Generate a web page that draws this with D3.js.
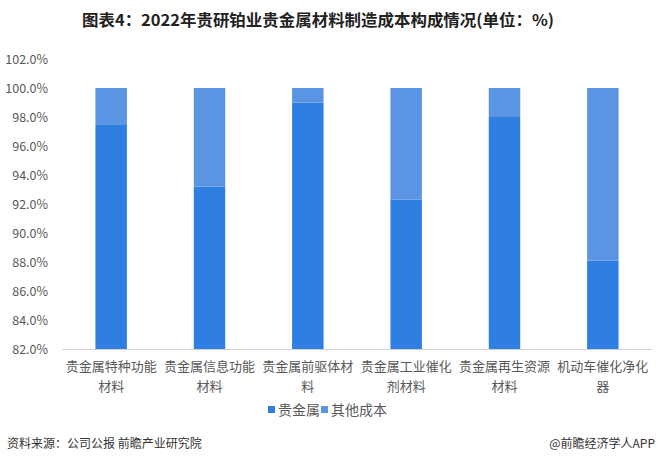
<!DOCTYPE html>
<html><head><meta charset="utf-8">
<script src="https://cdn.jsdelivr.net/npm/d3@7"></script>
<style>body{margin:0;background:#fff;}svg{display:block;font-family:"Noto Sans CJK SC","Noto Sans",sans-serif;}</style>
</head><body>
<svg id="c" width="660" height="465"></svg>
<script>
const categories = ["贵金属特种功能材料","贵金属信息功能材料","贵金属前驱体材料","贵金属工业催化剂材料","贵金属再生资源材料","机动车催化净化器"];
const categoryLines = [["贵金属特种功能","材料"],["贵金属信息功能","材料"],["贵金属前驱体材","料"],["贵金属工业催化","剂材料"],["贵金属再生资源","材料"],["机动车催化净化","器"]];
const preciousMetal = [97.5, 93.2, 99.0, 92.3, 98.0, 88.1];
const otherCost = [2.5, 6.8, 1.0, 7.7, 2.0, 11.9];
const seriesNames = ["贵金属","其他成本"];
const yTicks = [82,84,86,88,90,92,94,96,98,100,102];

const colors = ["#2f7ee1","#5a94e2"];
const svg = d3.select("#c");
const m = {l:62, r:8, t:59, b:116};
const W = 660, H = 465;
const x = d3.scaleBand().domain(categories).range([m.l, W-m.r]).paddingInner(0.68).paddingOuter(0.34);
const y = d3.scaleLinear().domain([82,102]).range([H-m.b, m.t]);

svg.append("text").attr("x",318).attr("y",26).attr("text-anchor","middle")
  .attr("font-size",16).attr("font-weight","bold").attr("fill","#222")
  .attr("textLength",472).attr("lengthAdjust","spacingAndGlyphs")
  .text("图表4：2022年贵研铂业贵金属材料制造成本构成情况(单位：%)");

// y axis labels
const ya = svg.append("g").attr("transform",`translate(${m.l},0)`)
  .call(d3.axisLeft(y).tickValues(yTicks).tickFormat(d=>d3.format(".1f")(d)+"%").tickSize(0).tickPadding(14));
ya.select(".domain").remove();
ya.selectAll("text").attr("font-size",12.5).attr("fill","#595959").attr("font-family","'Noto Sans CJK SC',sans-serif");

// bars
const stackData = categories.map((c,i)=>({cat:c, a:preciousMetal[i], b:otherCost[i]}));
const g = svg.append("g");
g.selectAll("rect.a").data(stackData).join("rect").attr("class","a")
  .attr("x",d=>x(d.cat)).attr("width",x.bandwidth())
  .attr("y",d=>y(d.a)).attr("height",d=>y(82)-y(d.a)).attr("fill",colors[0]);
g.selectAll("rect.b").data(stackData).join("rect").attr("class","b")
  .attr("x",d=>x(d.cat)).attr("width",x.bandwidth())
  .attr("y",d=>y(d.a+d.b)).attr("height",d=>y(d.a)-y(d.a+d.b)).attr("fill",colors[1]);

// x axis
const xa = svg.append("g").attr("transform",`translate(0,${y(82)})`)
  .call(d3.axisBottom(x).tickSize(0).tickFormat(""));
xa.select(".domain").attr("stroke","#d0d0d0");
categories.forEach((c,i)=>{
  const t = svg.append("text").attr("text-anchor","middle").attr("font-size",13).attr("fill","#595959");
  categoryLines[i].forEach((ln,j)=>{
    t.append("tspan").attr("x",x(c)+x.bandwidth()/2).attr("y",y(82)+22+j*20).text(ln);
  });
});

// legend
const lg = svg.append("g");
const legendX = [268, 321];
seriesNames.forEach((s,i)=>{
  lg.append("rect").attr("x",legendX[i]).attr("y",406).attr("width",7).attr("height",7).attr("fill",colors[i]);
  lg.append("text").attr("x",legendX[i]+10).attr("y",415).attr("font-size",14).attr("fill","#595959").text(s);
});

// footer
svg.append("text").attr("x",7).attr("y",448).attr("font-size",12).attr("fill","#333").text("资料来源：公司公报 前瞻产业研究院");
svg.append("text").attr("x",655).attr("y",448).attr("text-anchor","end").attr("font-size",12).attr("fill","#333").text("@前瞻经济学人APP");
</script>
</body></html>
